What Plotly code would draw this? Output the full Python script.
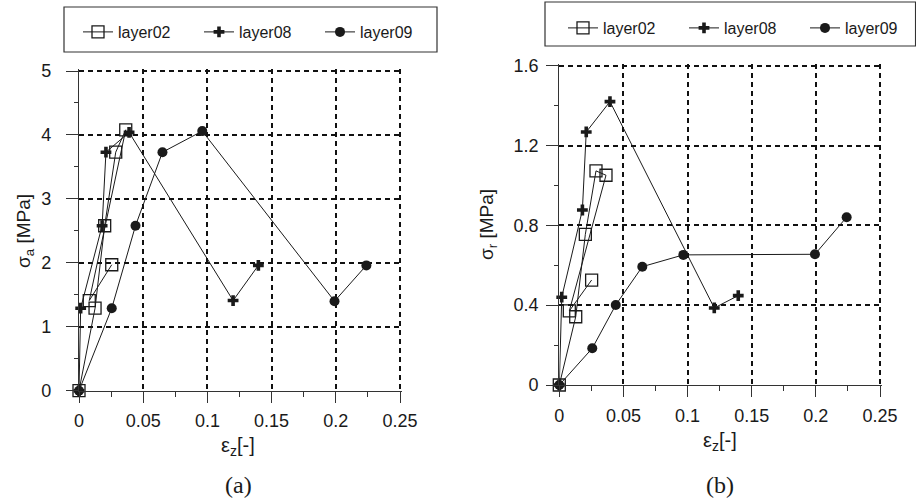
import plotly.graph_objects as go

# ---- data ----
# panel (a): axial stress vs axial strain
a_layer02_x = [0, 0.0125, 0.020, 0.0286, 0.0364, 0.008, 0.0255]
a_layer02_y = [0, 1.29, 2.58, 3.73, 4.08, 1.41, 1.97]
a_layer08_x = [0, 0.0013, 0.018, 0.021, 0.039, 0.120, 0.1397]
a_layer08_y = [0, 1.29, 2.58, 3.73, 4.04, 1.41, 1.96]
a_layer09_x = [0, 0.0255, 0.044, 0.065, 0.096, 0.199, 0.2238]
a_layer09_y = [0, 1.29, 2.58, 3.73, 4.06, 1.40, 1.96]

# panel (b): radial stress vs axial strain
b_layer02_x = [0, 0.0128, 0.0203, 0.0286, 0.0364, 0.0078, 0.0252]
b_layer02_y = [0, 0.342, 0.755, 1.073, 1.051, 0.371, 0.526]
b_layer08_x = [0, 0.0019, 0.018, 0.021, 0.0395, 0.1208, 0.1395]
b_layer08_y = [0, 0.44, 0.877, 1.268, 1.42, 0.386, 0.448]
b_layer09_x = [0, 0.0257, 0.044, 0.0647, 0.0967, 0.1993, 0.224]
b_layer09_y = [0, 0.184, 0.401, 0.593, 0.652, 0.655, 0.841]

names = ["layer02", "layer08", "layer09"]
x_ticks = [0, 0.05, 0.1, 0.15, 0.2, 0.25]
x_ticktext = ["0", "0.05", "0.1", "0.15", "0.2", "0.25"]

W, H = 916, 502
ink = "#1a1a1a"
sans = "Liberation Sans, Arial, sans-serif"
PAD = 1.006  # tiny range overshoot so the edge grid lines (at 0.25 / 5 / 1.6) are drawn

styles = [
    dict(symbol="square-open", size=12, color=ink, line=dict(width=1.3, color=ink)),
    dict(symbol="cross", size=9, color=ink, line=dict(width=0)),
    dict(symbol="circle", size=10, color=ink, line=dict(width=0)),
]

fig = go.Figure()
panel_a = [(a_layer02_x, a_layer02_y), (a_layer08_x, a_layer08_y), (a_layer09_x, a_layer09_y)]
panel_b = [(b_layer02_x, b_layer02_y), (b_layer08_x, b_layer08_y), (b_layer09_x, b_layer09_y)]
for i, (xs, ys) in enumerate(panel_a):
    fig.add_trace(go.Scatter(x=xs, y=ys, mode="lines+markers", name=names[i],
                             line=dict(color=ink, width=1), marker=styles[i],
                             cliponaxis=False, xaxis="x", yaxis="y", legend="legend"))
for i, (xs, ys) in enumerate(panel_b):
    fig.add_trace(go.Scatter(x=xs, y=ys, mode="lines+markers", name=names[i],
                             line=dict(color=ink, width=1), marker=styles[i],
                             cliponaxis=False, xaxis="x2", yaxis="y2", legend="legend2"))

tickfont = dict(family=sans, size=18, color=ink)
grid = dict(showgrid=True, gridcolor="#111", gridwidth=1.6, griddash="5px,4px",
            zeroline=False, showline=True, linecolor="#333", linewidth=1.3,
            ticks="outside", tickcolor="#333", tickwidth=1.3, tickfont=tickfont,
            automargin=False)

def xdomain(p0, p1):
    # p0 = pixel of x=0, p1 = pixel of x=0.25
    return [p0 / W, (p0 + (p1 - p0) * PAD) / W]

def ydomain(p0, p1):
    # p0 = pixel of y=0, p1 = pixel of y=top
    return [1 - p0 / H, 1 - (p0 - (p0 - p1) * PAD) / H]

def xax(domain, anchor):
    return dict(domain=domain, anchor=anchor, range=[0, 0.25 * PAD], tickvals=x_ticks,
                ticktext=x_ticktext, ticklen=11, ticklabelstandoff=3,
                minor=dict(dtick=0.025, ticks="outside", ticklen=5, tickcolor="#333",
                           tickwidth=1.2, showgrid=False),
                **grid)

def yax(domain, anchor, top, dtick, mdtick, standoff):
    return dict(domain=domain, anchor=anchor, range=[0, top * PAD], dtick=dtick, tick0=0,
                ticklen=12, ticklabelstandoff=standoff,
                minor=dict(dtick=mdtick, ticks="outside", ticklen=4, tickcolor="#333",
                           tickwidth=1.2, showgrid=False),
                **grid)

legend_common = dict(orientation="h", xanchor="left", yanchor="top",
                     bgcolor="rgba(0,0,0,0)", borderwidth=0, entrywidth=76,
                     entrywidthmode="pixels", font=dict(family=sans, size=16, color=ink))

fig.update_layout(
    width=W, height=H, margin=dict(l=0, r=0, t=0, b=0, autoexpand=False),
    paper_bgcolor="white", plot_bgcolor="white",
    xaxis=xax(xdomain(79, 400), "y"),
    yaxis=yax(ydomain(390.7, 71), "x", 5, 1, 0.5, 11),
    xaxis2=xax(xdomain(559.3, 880), "y2"),
    yaxis2=yax(ydomain(385, 65.7), "x2", 1.6, 0.4, 0.2, 4),
    legend=dict(x=78 / W, y=1 - 15 / H, **legend_common),
    legend2=dict(x=563 / W, y=1 - 11 / H, **legend_common),
    shapes=[
        dict(type="rect", xref="paper", yref="paper", x0=64 / W, x1=437 / W,
             y0=1 - 52 / H, y1=1 - 7 / H, line=dict(color="#333", width=1.2)),
        dict(type="rect", xref="paper", yref="paper", x0=545 / W, x1=0.9995,
             y0=1 - 46 / H, y1=1 - 2 / H, line=dict(color="#333", width=1.2)),
    ],
    showlegend=True,
)

ytitle_font = dict(family=sans, size=19, color=ink)
xtitle_font = dict(family=sans, size=20, color=ink)
serif = dict(family="Liberation Serif, Times New Roman, serif", size=24, color=ink)
ann = dict(xref="paper", yref="paper", showarrow=False, xanchor="center", yanchor="middle")
fig.add_annotation(text="σ<sub>a</sub> [MPa]", x=25 / W, y=1 - 231 / H, textangle=-90,
                   font=ytitle_font, **ann)
fig.add_annotation(text="σ<sub>r</sub> [MPa]", x=488 / W, y=1 - 225 / H, textangle=-90,
                   font=ytitle_font, **ann)
fig.add_annotation(text="ε<sub>z</sub>[-]", x=238 / W, y=1 - 446 / H, font=xtitle_font, **ann)
fig.add_annotation(text="ε<sub>z</sub>[-]", x=720 / W, y=1 - 441 / H, font=xtitle_font, **ann)
fig.add_annotation(text="(a)", x=238 / W, y=1 - 485 / H, font=serif, **ann)
fig.add_annotation(text="(b)", x=720 / W, y=1 - 485 / H, font=serif, **ann)

fig.write_html("out.html")
